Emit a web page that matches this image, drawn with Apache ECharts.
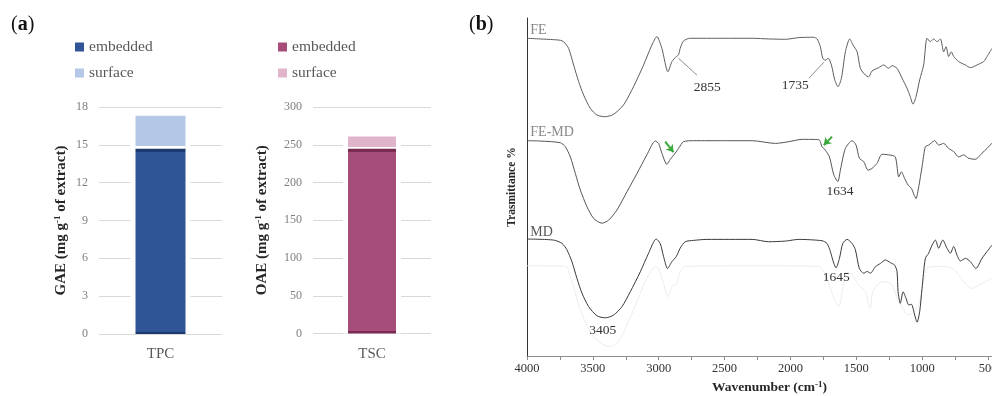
<!DOCTYPE html>
<html>
<head>
<meta charset="utf-8">
<script src="https://cdn.jsdelivr.net/npm/echarts@6/dist/echarts.min.js"></script>
<style>
  html, body { margin: 0; padding: 0; background: #fff; }
  #chart { width: 992px; height: 396px; }
</style>
</head>
<body>
<div id="chart"></div>
<script>
// ---- (a) phenolic / sugar content of the extract ----
const tpcCategories = ['TPC'];
const tpcEmbedded = [14.7];   // mg GAE / g extract
const tpcSurface = [2.6];
const tscCategories = ['TSC'];
const tscEmbedded = [245];    // mg OAE / g extract
const tscSurface = [16];

// ---- (b) FT-IR spectra: [wavenumber cm-1, transmittance (offset, a.u.)] ----
const feSpectrum = [
  [4000,94.0],[3900,93.8],[3800,93.6],[3747,93.4],[3722,93.0],[3684,91.0],[3646,86.1],[3608,81.2],
  [3570,77.2],[3520,73.3],[3469,71.3],[3406,70.8],[3343,71.5],[3267,74.3],[3191,79.7],[3115,86.1],
  [3052,92.0],[3014,94.5],[2976,91.0],[2930,84.1],[2900,87.1],[2867,88.6],[2850,89.1],[2837,91.0],
  [2812,93.2],[2761,94.0],[2600,94.0],[2400,94.0],[2291,94.0],[2165,93.8],[2038,93.7],[1937,94.2],
  [1823,94.3],[1798,93.8],[1773,91.5],[1755,88.1],[1735,87.5],[1714,88.1],[1689,86.1],[1664,81.7],
  [1639,79.7],[1613,82.2],[1583,90.0],[1550,93.8],[1525,92.0],[1494,90.0],[1469,85.1],[1431,83.1],
  [1406,82.6],[1381,84.3],[1330,85.3],[1292,86.1],[1254,85.1],[1229,85.9],[1191,85.1],[1153,82.2],
  [1115,79.2],[1090,76.7],[1070,74.5],[1047,76.7],[1019,81.7],[989,86.1],[963,94.0],[938,93.0],
  [913,93.8],[887,93.0],[862,93.8],[837,90.0],[819,91.5],[799,88.6],[779,90.0],[761,88.6],
  [723,87.1],[672,86.1],[634,85.3],[584,86.1],[533,87.1],[508,88.6],[470,91.0]
];
const feMdSpectrum = [
  [4000,63.7],[3900,63.6],[3747,63.1],[3709,61.9],[3671,58.9],[3633,54.0],[3595,49.1],[3545,44.2],
  [3494,40.7],[3431,39.3],[3380,40.2],[3317,43.2],[3241,48.6],[3165,54.0],[3090,59.5],[3026,63.6],
  [3001,62.9],[2976,60.0],[2938,56.7],[2912,58.2],[2875,60.0],[2850,61.4],[2812,63.4],[2736,63.7],
  [2500,63.7],[2291,63.7],[2114,62.9],[2013,63.4],[1912,64.1],[1785,64.0],[1760,61.9],[1735,60.9],
  [1704,58.9],[1671,53.6],[1640,51.6],[1621,55.0],[1583,61.4],[1532,63.7],[1502,62.4],[1477,58.5],
  [1444,57.5],[1411,55.0],[1381,55.5],[1343,57.0],[1305,59.7],[1254,59.5],[1204,58.9],[1178,53.0],
  [1158,54.5],[1133,52.5],[1107,50.6],[1082,49.6],[1064,47.9],[1047,46.6],[1026,50.1],[1001,56.0],
  [976,61.9],[951,62.4],[905,63.7],[875,62.4],[837,62.9],[799,61.4],[761,60.5],[723,58.9],
  [685,59.5],[647,58.5],[597,58.2],[546,60.0],[508,61.4],[470,63.0]
];
const mdSpectrum = [
  [4000,34.6],[3798,34.3],[3734,33.3],[3697,31.4],[3659,27.9],[3621,23.0],[3583,18.6],[3532,14.6],
  [3469,11.9],[3406,11.3],[3343,12.1],[3279,14.6],[3216,19.0],[3140,24.9],[3077,30.4],[3019,34.6],
  [2989,33.3],[2963,29.4],[2933,25.9],[2900,27.9],[2867,29.4],[2837,31.9],[2799,33.8],[2736,34.2],
  [2634,34.5],[2291,34.5],[2165,33.8],[2038,34.0],[1937,34.5],[1760,34.1],[1722,33.3],[1697,30.9],
  [1671,27.4],[1654,26.1],[1628,28.9],[1603,33.3],[1570,34.5],[1532,33.3],[1507,31.4],[1477,25.9],
  [1444,24.5],[1418,25.0],[1393,24.5],[1355,26.4],[1317,27.4],[1279,28.4],[1241,27.6],[1209,26.9],
  [1191,25.0],[1183,19.0],[1166,15.6],[1145,19.0],[1123,17.1],[1102,15.1],[1082,15.3],[1057,12.1],
  [1039,10.0],[1019,13.1],[1001,20.0],[976,28.9],[951,30.4],[925,32.8],[900,34.3],[875,31.9],
  [844,34.3],[812,31.9],[786,30.4],[761,32.4],[736,29.9],[710,28.1],[672,28.9],[634,27.9],
  [592,25.9],[546,28.9],[508,30.9],[470,32.8]
];
const mdFaintSpectrum = [
  [4000,26.7],[3700,26.5],[3684,24.9],[3646,20.5],[3608,15.1],[3558,10.1],[3494,5.7],[3419,3.3],
  [3368,2.8],[3305,4.2],[3241,9.2],[3165,16.1],[3090,23.0],[3026,26.4],[3001,26.0],[2963,21.5],
  [2933,17.5],[2900,20.5],[2862,21.5],[2837,24.9],[2799,26.5],[2230,26.7],[1785,26.5],[1735,24.0],
  [1697,20.0],[1659,16.1],[1633,14.6],[1603,20.0],[1570,24.9],[1532,24.0],[1482,21.0],[1431,19.0],
  [1406,15.1],[1393,14.1],[1376,19.0],[1330,21.5],[1279,22.0],[1229,21.0],[1178,16.1],[1102,12.1],
  [1026,15.1],[1001,20.0],[963,26.0],[875,26.5],[774,26.0],[672,21.5],[622,20.0],[546,21.5],[470,23.0]
];

const wnLabels = [4000, 3500, 3000, 2500, 2000, 1500, 1000, 500];
const wnTicks = [4000,3750,3500,3250,3000,2750,2500,2250,2000,1750,1500,1250,1000,750,500];

// peak labels, curve names, leader lines and marker arrows (data coordinates)
const peakNotes = [
  { name: '2855', coord: [2632, 79.4] },
  { name: '1735', coord: [1964, 80.0] },
  { name: '1634', coord: [1623, 48.6] },
  { name: '3405', coord: [3425, 7.7] },
  { name: '1645', coord: [1653, 23.3] }
];
const curveNames = [
  { name: 'FE', coord: [3975, 96.4] },
  { name: 'FE-MD', coord: [3975, 66.1] },
  { name: 'MD', coord: [3975, 36.7] }
];
const leaderLines = [
  [[2850, 88.1], [2710, 83.1]],
  [[1747, 86.9], [1860, 82.2]]
];
const greenArrows = [
  [[2951, 63.4], [2888, 60.3]],
  [[1684, 64.9], [1747, 62.4]]
];

const FONT = '"Liberation Serif", "DejaVu Serif", serif';
const chart = echarts.init(document.getElementById('chart'), null, { renderer: 'canvas' });

function bandedFill(edge, body) {
  return new echarts.graphic.LinearGradient(0, 0, 0, 1, [
    { offset: 0, color: edge }, { offset: 0.016, color: edge },
    { offset: 0.017, color: body }, { offset: 0.988, color: body },
    { offset: 0.989, color: edge }, { offset: 1, color: edge }
  ]);
}
function capFill(body, split) {
  return new echarts.graphic.LinearGradient(0, 0, 0, 1, [
    { offset: 0, color: body }, { offset: split, color: body },
    { offset: split + 0.001, color: '#ffffff' }, { offset: 1, color: '#ffffff' }
  ]);
}

const sumOf = (a, b) => a.map((v, i) => v + b[i]);

const barCatAxis = (grid, cats) => ({
  type: 'category', gridIndex: grid, data: cats,
  axisLine: { show: false }, axisTick: { show: false },
  axisLabel: { fontFamily: FONT, fontSize: 15, color: '#595959', margin: 13 }
});
const hiddenCatAxis = (grid, cats) => ({ type: 'category', gridIndex: grid, data: cats, show: false });

const nameRich = {
  sup: { fontFamily: FONT, fontWeight: 'bold', fontSize: 9, padding: [0, 0, 7, 0], color: '#262626' }
};

const barValueAxis = (grid, max, interval, name, gap) => ({
  type: 'value', gridIndex: grid, min: 0, max: max, interval: interval,
  axisLine: { show: false }, axisTick: { show: false },
  axisLabel: { fontFamily: FONT, fontSize: 12, color: '#7f7f7f', margin: 11 },
  splitLine: { lineStyle: { color: '#d9d9d9', width: 1 } },
  name: name, nameLocation: 'middle', nameGap: gap,
  nameTextStyle: { fontFamily: FONT, fontWeight: 'bold', fontSize: 15, color: '#262626', rich: nameRich }
});

const spectrumLine = (name, data, color, width, z) => ({
  name: name, type: 'line', xAxisIndex: 4, yAxisIndex: 2, data: data,
  showSymbol: false, symbol: 'none', smooth: 0.25, z: z, silent: true,
  lineStyle: { color: color, width: width }
});

const mdLine = spectrumLine('MD', mdSpectrum, '#3a3a3a', 1, 4);
mdLine.markPoint = {
  symbol: 'circle', symbolSize: 0, silent: true,
  label: { show: true, position: 'inside', formatter: '{b}', fontFamily: FONT, fontSize: 13.5, color: '#333' },
  data: peakNotes
};
mdLine.markLine = {
  silent: true, symbol: 'none', animation: false,
  label: { show: false },
  lineStyle: { color: '#8c8c8c', width: 1, type: 'solid' },
  data: leaderLines.map(l => [{ coord: l[0] }, { coord: l[1] }])
};

const feLine = spectrumLine('FE', feSpectrum, '#5e5e5e', 1, 4);
feLine.markPoint = {
  symbol: 'circle', symbolSize: 0, silent: true,
  label: { show: true, position: 'right', distance: 0, formatter: '{b}', fontFamily: FONT, fontSize: 14, color: '#8a8a8a' },
  data: curveNames.slice(0, 2)
};

const feMdLine = spectrumLine('FE-MD', feMdSpectrum, '#555555', 1, 4);
feMdLine.markLine = {
  silent: true, symbol: ['none', 'arrow'], symbolSize: 7, animation: false,
  label: { show: false },
  lineStyle: { color: '#3aa83a', width: 2, type: 'solid' },
  data: greenArrows.map(l => [{ coord: l[0] }, { coord: l[1] }])
};

const faintLine = spectrumLine('MD trace', mdFaintSpectrum, '#ececec', 1, 3);
faintLine.markPoint = {
  symbol: 'circle', symbolSize: 0, silent: true,
  label: { show: true, position: 'right', distance: 0, formatter: '{b}', fontFamily: FONT, fontSize: 14, color: '#595959' },
  data: curveNames.slice(2)
};

const option = {
  animation: false,
  backgroundColor: '#ffffff',
  textStyle: { fontFamily: FONT },
  grid: [
    { left: 99, top: 107, width: 123, height: 227, outerBoundsMode: 'none', containLabel: false },
    { left: 313, top: 107, width: 118, height: 226.5, outerBoundsMode: 'none', containLabel: false },
    { left: 527, top: 18, width: 465, height: 338, outerBoundsMode: 'none', containLabel: false }
  ],
  legend: [
    {
      left: 70, top: 34, orient: 'vertical', icon: 'rect', itemWidth: 9, itemHeight: 9, itemGap: 10,
      selectedMode: false,
      textStyle: { fontFamily: FONT, fontSize: 15.5, color: '#595959' },
      data: [
        { name: 'embedded', itemStyle: { color: '#2f5597' } },
        { name: 'surface', itemStyle: { color: '#b4c7e7' } }
      ]
    },
    {
      left: 273, top: 34, orient: 'vertical', icon: 'rect', itemWidth: 9, itemHeight: 9, itemGap: 10,
      selectedMode: false,
      textStyle: { fontFamily: FONT, fontSize: 15.5, color: '#595959' },
      data: [
        { name: 'embedded', itemStyle: { color: '#a64d79' } },
        { name: 'surface', itemStyle: { color: '#e0b5cb' } }
      ]
    }
  ],
  xAxis: [
    barCatAxis(0, tpcCategories),
    hiddenCatAxis(0, tpcCategories),
    barCatAxis(1, tscCategories),
    hiddenCatAxis(1, tscCategories),
    {
      type: 'value', gridIndex: 2, min: 470, max: 4000, inverse: true,
      axisLine: { show: true, onZero: false, lineStyle: { color: '#8c8c8c', width: 1 } },
      axisTick: { show: true, customValues: wnTicks, length: 4, lineStyle: { color: '#8c8c8c' } },
      axisLabel: { customValues: wnLabels, formatter: v => String(v), hideOverlap: false,
                   fontFamily: FONT, fontSize: 12.5, color: '#333', margin: 6 },
      splitLine: { show: false },
      name: 'Wavenumber (cm{sup|-1})', nameLocation: 'middle', nameGap: 24,
      nameTextStyle: { fontFamily: FONT, fontWeight: 'bold', fontSize: 13.5, color: '#262626', rich: nameRich, padding: [0, 0, 0, 20] }
    }
  ],
  yAxis: [
    barValueAxis(0, 18, 3, 'GAE (mg g{sup|-1} of extract)', 30),
    barValueAxis(1, 300, 50, 'OAE (mg g{sup|-1} of extract)', 43),
    {
      type: 'value', gridIndex: 2, min: 0, max: 100,
      axisLine: { show: true, lineStyle: { color: '#333', width: 1 } },
      axisTick: { show: false }, axisLabel: { show: false }, splitLine: { show: false },
      name: 'Trasmittance %', nameLocation: 'middle', nameGap: 9,
      nameTextStyle: { fontFamily: FONT, fontWeight: 'bold', fontSize: 11.5, color: '#262626' }
    }
  ],
  series: [
    // white halo behind each column so the gridlines stop short of it
    { type: 'bar', xAxisIndex: 1, yAxisIndex: 0, barWidth: 60, silent: true, z: 1,
      data: sumOf(tpcEmbedded, tpcSurface), itemStyle: { color: '#fff', borderColor: '#fff', borderWidth: 2 } },
    { type: 'bar', xAxisIndex: 3, yAxisIndex: 1, barWidth: 58, silent: true, z: 1,
      data: sumOf(tscEmbedded, tscSurface), itemStyle: { color: '#fff', borderColor: '#fff', borderWidth: 2 } },
    { name: 'embedded', type: 'bar', stack: 'tpc', xAxisIndex: 0, yAxisIndex: 0, barWidth: 50, z: 2,
      data: tpcEmbedded, itemStyle: { color: bandedFill('#1c3a70', '#2f5597') } },
    { name: 'surface', type: 'bar', stack: 'tpc', xAxisIndex: 0, yAxisIndex: 0, barWidth: 50, z: 2,
      data: tpcSurface, itemStyle: { color: capFill('#b4c7e7', 0.93) } },
    { name: 'embedded', type: 'bar', stack: 'tsc', xAxisIndex: 2, yAxisIndex: 1, barWidth: 48, z: 2,
      data: tscEmbedded, itemStyle: { color: bandedFill('#7a2a52', '#a64d79') } },
    { name: 'surface', type: 'bar', stack: 'tsc', xAxisIndex: 2, yAxisIndex: 1, barWidth: 48, z: 2,
      data: tscSurface, itemStyle: { color: capFill('#e0b5cb', 0.88) } },
    faintLine,
    feLine,
    feMdLine,
    mdLine
  ],
  graphic: [
    { type: 'text', left: 11, top: 15, silent: true,
      style: { text: '({b|a})', font: '20px ' + FONT, fill: '#111',
               rich: { b: { fontFamily: FONT, fontSize: 20, fontWeight: 'bold', fill: '#111' } } } },
    { type: 'text', left: 469, top: 15, silent: true,
      style: { text: '({b|b})', font: '20px ' + FONT, fill: '#111',
               rich: { b: { fontFamily: FONT, fontSize: 20, fontWeight: 'bold', fill: '#111' } } } }
  ]
};

chart.setOption(option);
</script>
</body>
</html>
